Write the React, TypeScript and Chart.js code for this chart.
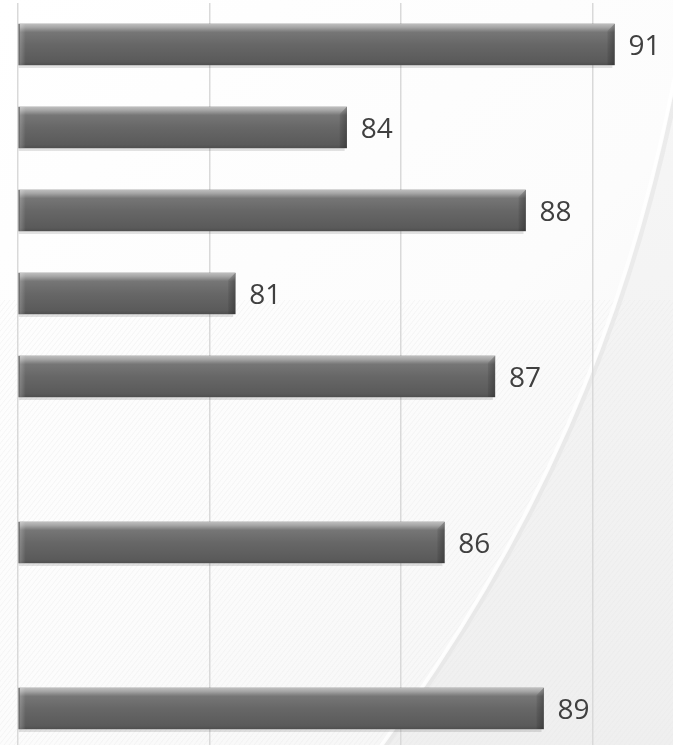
import React, { useEffect, useRef } from "react";
import { Chart, registerables } from "chart.js";

Chart.register(...registerables);

// ---- data ----
const categories = ["Item 1", "Item 2", "Item 3", "Item 4", "Item 5", "Item 6", "Item 7", "Item 8", "Item 9"];
const values: (number | null)[] = [90.57, 83.58, 88.25, 80.67, 87.45, null, 86.13, null, 88.72];
const axisMin = 75;
const axisMax = 92.1;
const gridStep = 5;

const backgroundPlugin = {
  id: "bgSwoosh",
  beforeDraw(chart: any) {
    const { ctx, width, height } = chart;
    ctx.save();
    const g = ctx.createLinearGradient(0, 0, width, height);
    g.addColorStop(0, "#ffffff");
    g.addColorStop(0.55, "#fcfcfc");
    g.addColorStop(1, "#f3f3f3");
    ctx.fillStyle = g;
    ctx.fillRect(0, 0, width, height);

    const path = new Path2D();
    path.moveTo(690, 0);
    path.bezierCurveTo(640, 330, 520, 560, 380, height);
    path.lineTo(width, height);
    path.lineTo(width, 0);
    path.closePath();
    const g2 = ctx.createLinearGradient(560, 0, width, height);
    g2.addColorStop(0, "#f7f7f7");
    g2.addColorStop(1, "#efefef");
    ctx.fillStyle = g2;
    ctx.fill(path);

    ctx.save();
    ctx.beginPath();
    ctx.rect(0, 300, width, height - 300);
    ctx.clip();
    ctx.strokeStyle = "rgba(230,230,230,0.35)";
    ctx.lineWidth = 1;
    for (let k = -height; k < width + height; k += 5) {
      ctx.beginPath();
      ctx.moveTo(k, height);
      ctx.lineTo(k + height * 0.8, 0);
      ctx.stroke();
    }
    ctx.restore();

    ctx.beginPath();
    ctx.moveTo(692, 0);
    ctx.bezierCurveTo(642, 330, 522, 560, 382, height);
    ctx.strokeStyle = "rgba(225,225,225,0.5)";
    ctx.lineWidth = 5;
    ctx.stroke();
    ctx.beginPath();
    ctx.moveTo(688, 0);
    ctx.bezierCurveTo(638, 330, 518, 560, 378, height);
    ctx.strokeStyle = "rgba(255,255,255,0.8)";
    ctx.lineWidth = 4;
    ctx.stroke();
    ctx.restore();
  },
};

const bevelPlugin = {
  id: "bevelBars",
  beforeDatasetsDraw(chart: any) {
    const { ctx } = chart;
    const meta = chart.getDatasetMeta(0);
    ctx.save();
    meta.data.forEach((bar: any, i: number) => {
      if (values[i] == null) return;
      const left = bar.base;
      const right = bar.x;
      const bottom = bar.y + bar.height / 2;
      ctx.fillStyle = "rgba(0,0,0,0.11)";
      ctx.fillRect(left, bottom, right - left - 2, 3);
    });
    ctx.restore();
  },
  afterDatasetsDraw(chart: any) {
    const { ctx } = chart;
    const meta = chart.getDatasetMeta(0);
    ctx.save();
    meta.data.forEach((bar: any, i: number) => {
      const v = values[i];
      if (v == null) return;
      const left = bar.base + 1;
      const right = bar.x;
      const top = bar.y - bar.height / 2;
      const bottom = bar.y + bar.height / 2;
      const h = bottom - top;
      const g = ctx.createLinearGradient(0, top, 0, bottom);
      g.addColorStop(0, "#bdbdbd");
      g.addColorStop(0.08, "#a6a6a6");
      g.addColorStop(0.2, "#767676");
      g.addColorStop(0.5, "#676767");
      g.addColorStop(0.92, "#5a5a5a");
      g.addColorStop(1, "#4f4f4f");
      ctx.fillStyle = g;
      ctx.fillRect(left, top, right - left, h);
      const gl = ctx.createLinearGradient(left, 0, left + 6, 0);
      gl.addColorStop(0, "rgba(255,255,255,0.22)");
      gl.addColorStop(1, "rgba(255,255,255,0)");
      ctx.fillStyle = gl;
      ctx.fillRect(left, top, 6, h);
      ctx.beginPath();
      ctx.moveTo(right - 7, top + 7);
      ctx.lineTo(right, top);
      ctx.lineTo(right, bottom);
      ctx.lineTo(right - 7, bottom);
      ctx.closePath();
      const gr = ctx.createLinearGradient(right - 7, 0, right, 0);
      gr.addColorStop(0, "rgba(0,0,0,0.08)");
      gr.addColorStop(1, "rgba(0,0,0,0.28)");
      ctx.fillStyle = gr;
      ctx.fill();
      ctx.fillStyle = "#404040";
      ctx.font = '28px "Open Sans"';
      ctx.textBaseline = "middle";
      ctx.textAlign = "left";
      ctx.fillText(String(Math.round(v)), right + 14, bar.y + 3);
    });
    ctx.restore();
  },
};

export default function App() {
  const ref = useRef<HTMLCanvasElement | null>(null);
  useEffect(() => {
    document.body.style.margin = "0";
    document.body.style.overflow = "hidden";
    const canvas = ref.current!;
    const chart = new Chart(canvas, {
      type: "bar",
      data: {
        labels: categories,
        datasets: [
          {
            data: values,
            base: axisMin,
            backgroundColor: "#636363",
            borderWidth: 0,
            barThickness: 41,
          },
        ],
      },
      options: {
        indexAxis: "y",
        responsive: false,
        animation: false,
        devicePixelRatio: 1,
        layout: { padding: { left: 18, top: 3, right: 0, bottom: 0 } },
        plugins: { legend: { display: false }, tooltip: { enabled: false } },
        scales: {
          x: {
            type: "linear",
            min: axisMin,
            max: axisMax,
            ticks: { display: false, stepSize: gridStep },
            border: { display: false },
            grid: {
              drawTicks: false,
              lineWidth: 1.5,
              color: (c: any) =>
                c.tick && Math.abs((c.tick.value - axisMin) % gridStep) < 1e-6 ? "#d9d9d9" : "rgba(0,0,0,0)",
            },
            afterFit: (s: any) => {
              s.height = 0;
            },
          },
          y: { type: "category", display: false, offset: true },
        },
      },
      plugins: [backgroundPlugin, bevelPlugin],
    });
    return () => chart.destroy();
  }, []);
  return (
    <div style={{ position: "absolute", left: 0, top: 0, width: 673, height: 745, overflow: "hidden" }}>
      <canvas ref={ref} width={673} height={750} style={{ display: "block" }} />
    </div>
  );
}
